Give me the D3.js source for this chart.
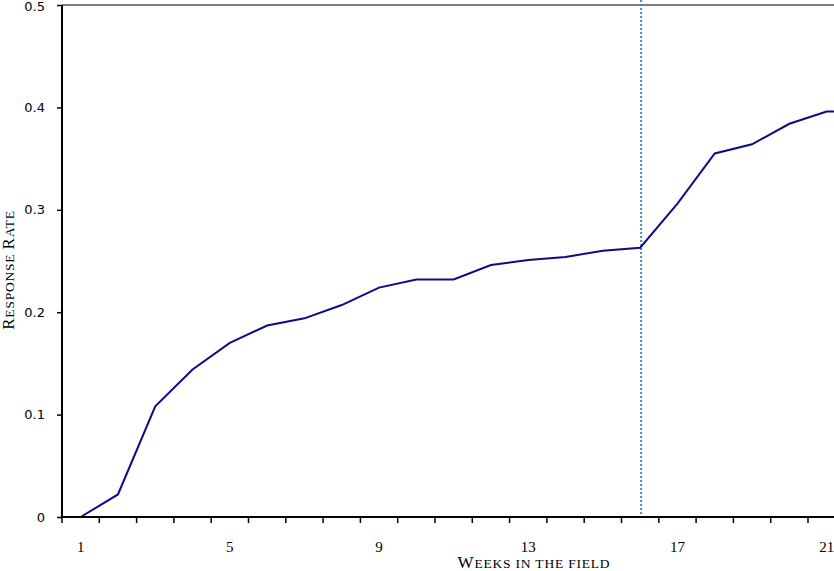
<!DOCTYPE html>
<html><head><meta charset="utf-8">
<script src="https://cdn.jsdelivr.net/npm/d3@7"></script>
<style>body{margin:0;background:#fff}svg{display:block}</style>
</head><body>
<script>
const weeks = [1,2,3,4,5,6,7,8,9,10,11,12,13,14,15,16,17,18,19,20,21,22];
const responseRate = [0,0.022,0.108,0.144,0.170,0.187,0.194,0.207,0.224,0.232,0.232,0.246,0.251,0.254,0.260,0.263,0.306,0.355,0.364,0.384,0.396,0.396];
const xTickLabels = [1,5,9,13,17,21];
const yTicks = [0,0.1,0.2,0.3,0.4,0.5];
const markerWeek = 16;
const xTitle = "Weeks in the field";
const yTitle = "Response Rate";

const W = 834, H = 571;
const svg = d3.select("body").append("svg").attr("width", W).attr("height", H);
const mLeft = 62, mTop = 5, mBottom = 517, step = 37.3;
const x = d3.scaleBand().domain(weeks).range([mLeft, mLeft + weeks.length * step]);
const y = d3.scaleLinear().domain([0, 0.5]).range([mBottom, mTop]);
const cx = d => x(d) + x.bandwidth() / 2;

// top border line
svg.append("line").attr("x1", mLeft).attr("x2", W).attr("y1", y(0.5)).attr("y2", y(0.5))
  .attr("stroke", "#808080").attr("stroke-width", 2);

// marker line
svg.append("line").attr("x1", cx(markerWeek)+1).attr("x2", cx(markerWeek)+1).attr("y1", 0).attr("y2", mBottom)
  .attr("stroke", "#4f81c4").attr("stroke-width", 2).attr("stroke-dasharray", "2,2");

// data line
svg.append("path").datum(weeks.map((w, i) => [w, responseRate[i]]))
  .attr("fill", "none").attr("stroke", "#0c0c88").attr("stroke-width", 2)
  .attr("d", d3.line().x(d => cx(d[0])).y(d => y(d[1])));

// y axis
const yAxis = svg.append("g").attr("transform", `translate(${mLeft},0)`)
  .call(d3.axisLeft(y).tickValues(yTicks).tickSize(5).tickPadding(12).tickFormat(d => d === 0 ? "0" : d3.format(".1f")(d)));
yAxis.select(".domain").attr("stroke", "#000").attr("stroke-width", 2).attr("d", `M0,${mTop}V${mBottom}`);
yAxis.selectAll(".tick line").attr("stroke", "#000").attr("stroke-width", 1.5);
yAxis.selectAll("text").attr("font-family", "DejaVu Sans").attr("font-size", 13).attr("fill", "#000");
yAxis.selectAll(".tick").filter(d => d === 0.5).select("text").attr("dy", "0.42em");

// x axis
const xAxis = svg.append("g").attr("transform", `translate(0,${mBottom})`)
  .call(d3.axisBottom(x).tickSize(0).tickFormat(d => xTickLabels.includes(d) ? d : "").tickPadding(24));
xAxis.select(".domain").attr("stroke", "#000").attr("stroke-width", 2).attr("d", `M${mLeft},0H${W}`);
xAxis.selectAll("text").attr("font-family", "Liberation Serif").attr("font-size", 15).attr("fill", "#000");
// tick marks between categories
svg.append("g").selectAll("line").data(weeks).join("line")
  .attr("x1", d => x(d)).attr("x2", d => x(d)).attr("y1", mBottom).attr("y2", mBottom + 6)
  .attr("stroke", "#000").attr("stroke-width", 1.5);

// small-caps titles: original capitals large, other letters as smaller capitals
function smallCaps(sel, str) {
  const runs = [];
  for (const ch of str) {
    const big = ch !== " " && ch === ch.toUpperCase();
    const last = runs[runs.length - 1];
    if (last && last.big === big) last.t += ch; else runs.push({big, t: ch});
  }
  runs.forEach(r => sel.append("tspan").attr("font-size", r.big ? 17 : 13.5).text(r.t.toUpperCase()));
}
const xt = svg.append("text").attr("x", 534).attr("y", 568).attr("text-anchor", "middle")
  .attr("font-family", "Liberation Serif").attr("letter-spacing", 0.8).attr("fill", "#000");
smallCaps(xt, xTitle);
const yt = svg.append("text").attr("transform", "translate(14,270) rotate(-90)").attr("text-anchor", "middle")
  .attr("font-family", "Liberation Serif").attr("letter-spacing", 0.8).attr("fill", "#000");
smallCaps(yt, yTitle);
</script>
</body></html>
